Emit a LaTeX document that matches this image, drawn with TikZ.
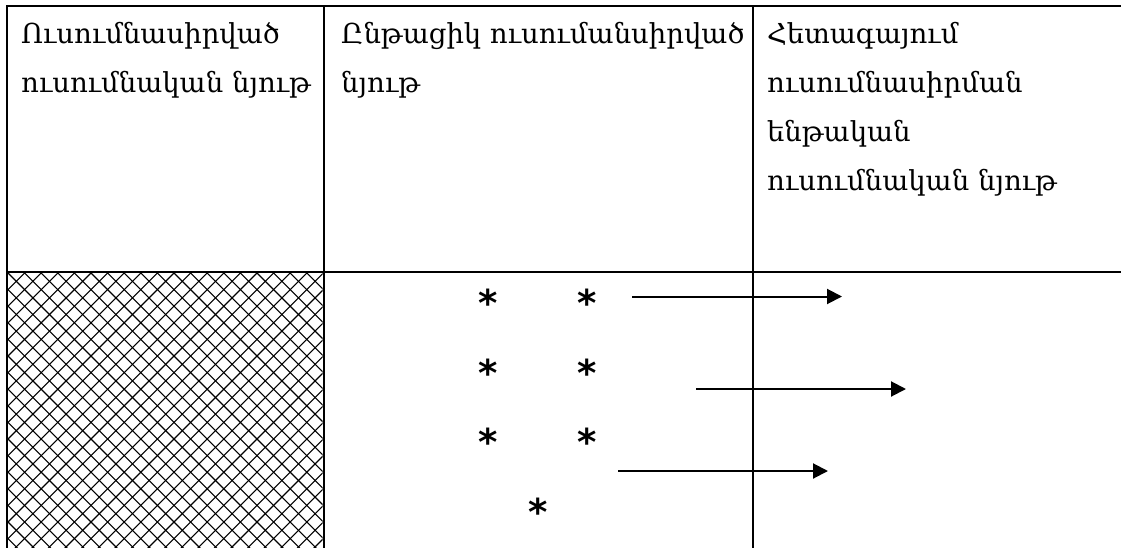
\documentclass[tikz,border=0pt]{standalone}
\usepackage{fontspec}
\setmainfont{DejaVu Serif}
\newfontfamily\starfont{DejaVu Sans}[BoldFont={DejaVu Sans Bold}]
\usetikzlibrary{arrows.meta}
\tikzset{
  tbl/.style={line width=2pt, line cap=rect},
  hdr/.style={anchor=base west, inner sep=0pt, font=\fontsize{27.5}{30}\selectfont},
  star/.style={inner sep=0pt, font=\starfont\bfseries\fontsize{37}{37}\selectfont},
  arr/.style={line width=2pt, -{Triangle[length=15pt,width=15pt]}},
  hatchline/.style={line width=1.1pt}
}
\begin{document}
\begin{tikzpicture}[x=1pt,y=-1pt]
\useasboundingbox (0,0) rectangle (1121,548);
% hatched cell
\begin{scope}
  \clip (8,273) rectangle (322.5,548);
  \foreach \i in {-25,...,45} {
    \draw[hatchline] ({8+\i*16.6},273) -- ++(300,300);
    \draw[hatchline] ({8+\i*16.6},273) -- ++(-300,300);
  }
\end{scope}
% table lines
\draw[tbl] (1121,6) -- (7,6) -- (7,548);
\draw[tbl] (323.5,6) -- (323.5,548);
\draw[tbl] (752.5,6) -- (752.5,548);
\draw[tbl] (7,271.5) -- (1121,271.5);
% header texts
\node[hdr] (h1a) at (21,44) {Ուսումնասիրված};
\node[hdr] (h1b) at (21,93) {ուսումնական նյութ};
\node[hdr] (h2a) at (341,44) {Ընթացիկ ուսումանսիրված};
\node[hdr] (h2b) at (341,93) {նյութ};
\node[hdr] (h3a) at (767,44) {Հետագայում};
\node[hdr] (h3b) at (767,93) {ուսումնասիրման};
\node[hdr] (h3c) at (767,142) {ենթական};
\node[hdr] (h3d) at (767,191) {ուսումնական նյութ};
% asterisks
\node[star] (s1) at (488,303) {*};
\node[star] (s2) at (587,303) {*};
\node[star] (s3) at (488,373) {*};
\node[star] (s4) at (587,373) {*};
\node[star] (s5) at (488,442) {*};
\node[star] (s6) at (587,442) {*};
\node[star] (s7) at (538,512) {*};
% arrows
\coordinate (a1s) at (632,296.5);
\coordinate (a1e) at (842,296.5);
\coordinate (a2s) at (696,389);
\coordinate (a2e) at (906,389);
\coordinate (a3s) at (618,471);
\coordinate (a3e) at (828,471);
\draw[arr] (a1s) -- (a1e);
\draw[arr] (a2s) -- (a2e);
\draw[arr] (a3s) -- (a3e);
\end{tikzpicture}
\end{document}
